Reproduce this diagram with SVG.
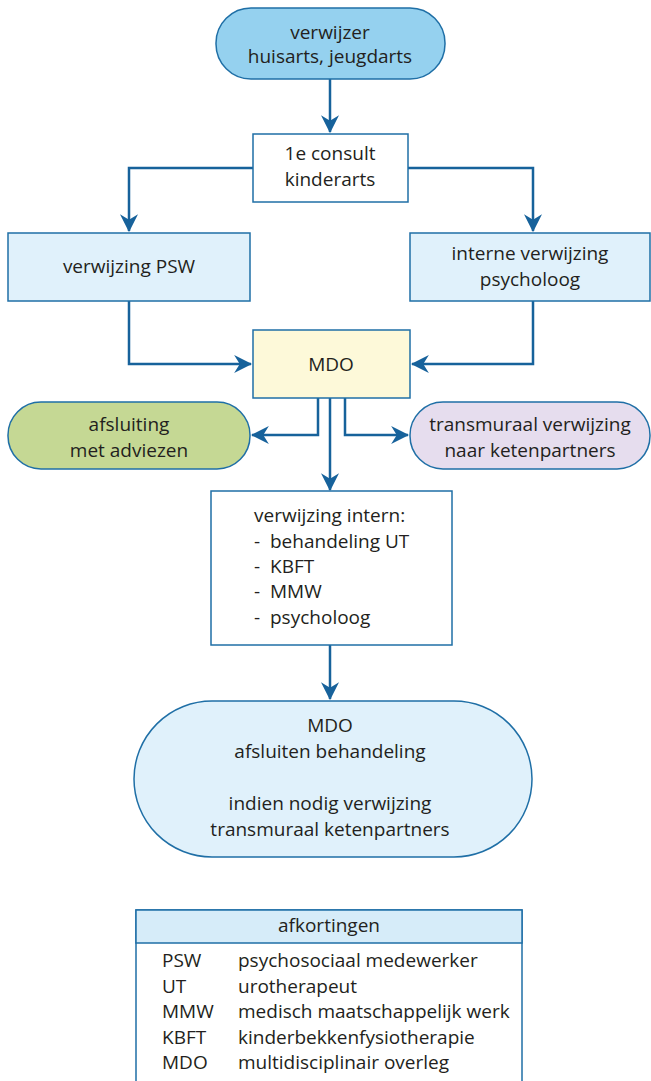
<svg xmlns="http://www.w3.org/2000/svg" width="651" height="1081" viewBox="0 0 651 1081">
<style>
text{font-family:"Open Sans","Noto Sans","Liberation Sans",sans-serif;font-size:19px;fill:#231f20}
.c{text-anchor:middle}
.n{stroke:#1f6fa6;stroke-width:1.5}
.e{fill:none;stroke:#17629b;stroke-width:2.5}
</style>
<defs>
<marker id="ah" viewBox="0 0 16 16" refX="15" refY="8" markerWidth="18" markerHeight="18" markerUnits="userSpaceOnUse" orient="auto"><path d="M0,0 L16,8 L0,16 L5,8 Z" fill="#17629b"/></marker>
</defs>
<rect width="651" height="1081" fill="#fff"/>
<g id="connectors">
<path class="e" d="M330,79 V132" marker-end="url(#ah)"/>
<path class="e" d="M253,168 H129 V231" marker-end="url(#ah)"/>
<path class="e" d="M408,168 H533 V231" marker-end="url(#ah)"/>
<path class="e" d="M129,301 V364 H251" marker-end="url(#ah)"/>
<path class="e" d="M533,301 V364 H412" marker-end="url(#ah)"/>
<path class="e" d="M318,398 V435 H252" marker-end="url(#ah)"/>
<path class="e" d="M345,398 V435 H408" marker-end="url(#ah)"/>
<path class="e" d="M330,398 V490" marker-end="url(#ah)"/>
<path class="e" d="M330,645 V699" marker-end="url(#ah)"/>
</g>
<g id="verwijzer">
<rect class="n" x="216" y="8" width="229" height="71" rx="35" fill="#95d1ef"/>
<text class="c" x="330" y="39">verwijzer</text>
<text class="c" x="330" y="63">huisarts, jeugdarts</text>
</g>
<g id="consult">
<rect class="n" x="253" y="134" width="155" height="68" fill="#fff"/>
<text class="c" x="330" y="160">1e consult</text>
<text class="c" x="330" y="186">kinderarts</text>
</g>
<g id="psw">
<rect class="n" x="8" y="233" width="242" height="68" fill="#e0f1fb"/>
<text class="c" x="129" y="273">verwijzing PSW</text>
</g>
<g id="psycholoog">
<rect class="n" x="410" y="233" width="240" height="68" fill="#e0f1fb"/>
<text class="c" x="530" y="260">interne verwijzing</text>
<text class="c" x="530" y="286">psycholoog</text>
</g>
<g id="mdo">
<rect class="n" x="253" y="330" width="157" height="68" fill="#fdf9d9"/>
<text class="c" x="331" y="371">MDO</text>
</g>
<g id="afsluiting">
<rect class="n" x="8" y="402" width="242" height="67" rx="33" fill="#c5d894"/>
<text class="c" x="129" y="431">afsluiting</text>
<text class="c" x="129" y="457">met adviezen</text>
</g>
<g id="transmuraal">
<rect class="n" x="410" y="402" width="240" height="67" rx="33" fill="#e6ddee"/>
<text class="c" x="530" y="431">transmuraal verwijzing</text>
<text class="c" x="530" y="457">naar ketenpartners</text>
</g>
<g id="intern">
<rect class="n" x="211" y="491" width="241" height="154" fill="#fff"/>
<text x="254" y="522">verwijzing intern:</text>
<text x="254" y="548">-</text><text x="270" y="548">behandeling UT</text>
<text x="254" y="573">-</text><text x="270" y="573">KBFT</text>
<text x="254" y="598">-</text><text x="270" y="598">MMW</text>
<text x="254" y="624">-</text><text x="270" y="624">psycholoog</text>
</g>
<g id="afsluiten">
<rect class="n" x="134" y="701" width="398" height="156" rx="78" fill="#e0f1fb"/>
<text class="c" x="330" y="732">MDO</text>
<text class="c" x="330" y="758">afsluiten behandeling</text>
<text class="c" x="330" y="810">indien nodig verwijzing</text>
<text class="c" x="330" y="836">transmuraal ketenpartners</text>
</g>
<g id="legend">
<rect class="n" x="136" y="910" width="386" height="180" fill="#fff"/>
<rect class="n" x="136" y="910" width="386" height="33" fill="#d6ecf9"/>
<text class="c" x="329" y="932">afkortingen</text>
<text x="162" y="967">PSW</text><text x="238" y="967">psychosociaal medewerker</text>
<text x="162" y="993">UT</text><text x="238" y="993">urotherapeut</text>
<text x="162" y="1018">MMW</text><text x="238" y="1018">medisch maatschappelijk werk</text>
<text x="162" y="1044">KBFT</text><text x="238" y="1044">kinderbekkenfysiotherapie</text>
<text x="162" y="1069">MDO</text><text x="238" y="1069">multidisciplinair overleg</text>
</g>
</svg>
